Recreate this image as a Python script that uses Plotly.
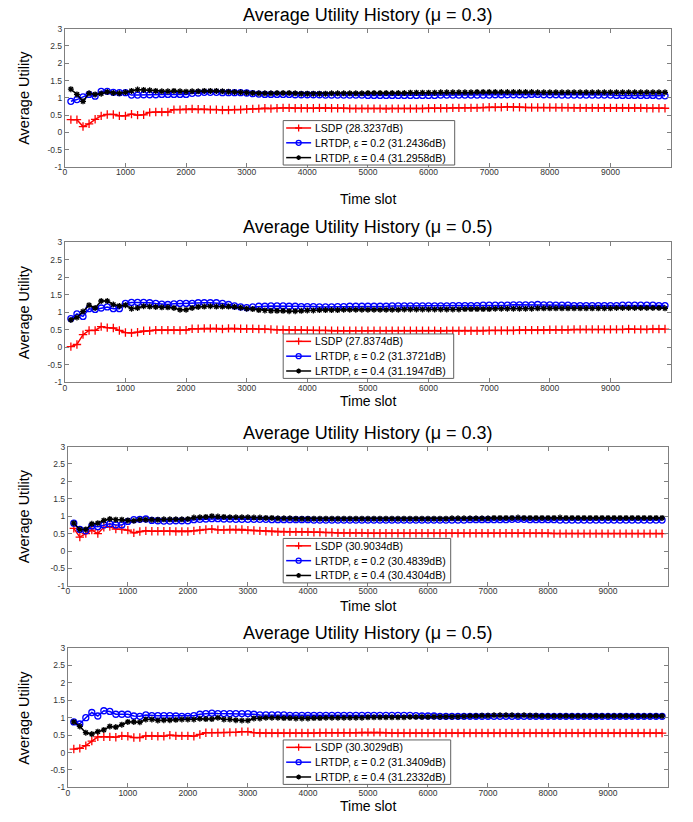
import plotly.graph_objects as go

W, H = 693, 822
slots = list(range(100, 10000, 100))

x_ticks = [0, 1000, 2000, 3000, 4000, 5000, 6000, 7000, 8000, 9000]
y_ticks = [-1, -0.5, 0, 0.5, 1, 1.5, 2, 2.5, 3]
y_tick_text = ["-1", "-0.5", "0", "0.5", "1", "1.5", "2", "2.5", "3"]

titles = ["Average Utility History (μ = 0.3)", "Average Utility History (μ = 0.5)",
          "Average Utility History (μ = 0.3)", "Average Utility History (μ = 0.5)"]

names1 = ["LSDP (28.3237dB)", "LRTDP, ε = 0.2 (31.2436dB)", "LRTDP, ε = 0.4 (31.2958dB)"]
names2 = ["LSDP (27.8374dB)", "LRTDP, ε = 0.2 (31.3721dB)", "LRTDP, ε = 0.4 (31.1947dB)"]
names3 = ["LSDP (30.9034dB)", "LRTDP, ε = 0.2 (30.4839dB)", "LRTDP, ε = 0.4 (30.4304dB)"]
names4 = ["LSDP (30.3029dB)", "LRTDP, ε = 0.2 (31.3409dB)", "LRTDP, ε = 0.4 (31.2332dB)"]

p1_lsdp = [0.37,0.37,0.17,0.25,0.38,0.48,0.52,0.52,0.48,0.48,
0.53,0.50,0.51,0.58,0.59,0.59,0.59,0.66,0.66,0.67,
0.68,0.67,0.67,0.66,0.66,0.65,0.65,0.66,0.66,0.67,
0.68,0.69,0.70,0.69,0.70,0.71,0.71,0.70,0.70,0.70,
0.70,0.71,0.71,0.70,0.70,0.70,0.69,0.69,0.69,0.69,
0.69,0.69,0.68,0.69,0.69,0.69,0.69,0.69,0.69,0.70,
0.70,0.70,0.70,0.71,0.71,0.71,0.71,0.71,0.72,0.73,
0.73,0.73,0.74,0.73,0.73,0.72,0.72,0.72,0.72,0.72,
0.72,0.72,0.72,0.71,0.71,0.71,0.71,0.71,0.71,0.71,
0.71,0.71,0.71,0.71,0.71,0.70,0.70,0.70,0.70]
p1_e02 = [0.90,0.95,1.03,1.10,1.05,1.19,1.19,1.16,1.15,1.15,
1.08,1.08,1.09,1.09,1.09,1.10,1.10,1.10,1.10,1.10,
1.13,1.14,1.16,1.16,1.16,1.15,1.15,1.15,1.15,1.14,
1.12,1.11,1.10,1.10,1.10,1.10,1.10,1.09,1.09,1.09,
1.09,1.09,1.08,1.08,1.08,1.08,1.08,1.08,1.08,1.07,
1.07,1.07,1.07,1.07,1.07,1.07,1.07,1.07,1.07,1.07,
1.07,1.08,1.08,1.08,1.08,1.08,1.08,1.08,1.08,1.08,
1.09,1.09,1.09,1.09,1.09,1.09,1.10,1.10,1.09,1.09,
1.09,1.08,1.08,1.08,1.08,1.08,1.08,1.08,1.08,1.08,
1.07,1.07,1.07,1.07,1.07,1.07,1.07,1.06,1.06]
p1_e04 = [1.25,1.10,0.90,1.13,1.10,1.12,1.17,1.14,1.13,1.16,
1.20,1.24,1.23,1.22,1.20,1.19,1.19,1.20,1.19,1.18,
1.19,1.19,1.20,1.20,1.20,1.19,1.18,1.17,1.16,1.15,
1.14,1.13,1.13,1.13,1.14,1.14,1.14,1.13,1.12,1.12,
1.12,1.12,1.12,1.13,1.13,1.13,1.13,1.13,1.13,1.14,
1.14,1.14,1.14,1.14,1.14,1.14,1.15,1.15,1.15,1.15,
1.15,1.16,1.16,1.16,1.16,1.16,1.16,1.17,1.17,1.17,
1.17,1.17,1.17,1.17,1.17,1.17,1.17,1.16,1.16,1.16,
1.16,1.16,1.16,1.16,1.16,1.16,1.16,1.16,1.16,1.16,
1.16,1.16,1.16,1.16,1.16,1.16,1.16,1.16,1.16]

p2_lsdp = [0.02,0.08,0.36,0.48,0.48,0.59,0.56,0.55,0.48,0.42,
0.41,0.43,0.47,0.47,0.49,0.49,0.49,0.49,0.48,0.49,
0.53,0.53,0.54,0.54,0.54,0.52,0.54,0.54,0.53,0.53,
0.53,0.52,0.52,0.51,0.50,0.50,0.49,0.49,0.49,0.48,
0.48,0.48,0.48,0.47,0.47,0.47,0.47,0.47,0.47,0.47,
0.47,0.47,0.47,0.47,0.47,0.47,0.47,0.47,0.47,0.47,
0.47,0.46,0.47,0.47,0.47,0.47,0.47,0.47,0.47,0.48,
0.48,0.48,0.48,0.48,0.49,0.49,0.49,0.49,0.49,0.50,
0.50,0.50,0.50,0.51,0.51,0.51,0.51,0.51,0.51,0.51,
0.51,0.51,0.52,0.51,0.51,0.51,0.52,0.52,0.52]
p2_e02 = [0.82,0.95,0.88,1.10,1.08,1.12,1.15,1.10,1.10,1.25,
1.28,1.28,1.28,1.27,1.25,1.23,1.22,1.24,1.25,1.25,
1.25,1.27,1.27,1.27,1.27,1.25,1.22,1.18,1.15,1.13,
1.15,1.17,1.17,1.18,1.18,1.18,1.17,1.17,1.16,1.16,
1.16,1.15,1.15,1.15,1.16,1.16,1.17,1.17,1.17,1.17,
1.17,1.17,1.17,1.18,1.18,1.18,1.18,1.18,1.18,1.18,
1.18,1.18,1.18,1.19,1.19,1.19,1.19,1.19,1.20,1.20,
1.20,1.20,1.20,1.21,1.21,1.21,1.21,1.22,1.21,1.21,
1.20,1.20,1.20,1.19,1.19,1.19,1.19,1.19,1.19,1.19,
1.19,1.20,1.20,1.20,1.20,1.20,1.20,1.19,1.19]
p2_e04 = [0.78,0.85,1.02,1.20,1.12,1.32,1.32,1.22,1.18,1.20,
1.10,1.12,1.17,1.16,1.15,1.14,1.14,1.12,1.07,1.07,
1.12,1.15,1.16,1.17,1.16,1.16,1.16,1.15,1.13,1.10,
1.09,1.06,1.05,1.04,1.04,1.04,1.03,1.03,1.04,1.05,
1.05,1.06,1.06,1.06,1.06,1.07,1.07,1.07,1.07,1.07,
1.07,1.07,1.07,1.07,1.07,1.08,1.08,1.08,1.08,1.08,
1.08,1.08,1.08,1.08,1.08,1.09,1.09,1.09,1.09,1.09,
1.10,1.10,1.10,1.10,1.10,1.10,1.10,1.11,1.11,1.11,
1.11,1.11,1.11,1.11,1.11,1.11,1.11,1.11,1.11,1.11,
1.12,1.12,1.12,1.12,1.12,1.12,1.12,1.12,1.11]

p3_lsdp = [0.65,0.40,0.50,0.60,0.50,0.68,0.70,0.63,0.62,0.60,
0.52,0.56,0.58,0.57,0.57,0.57,0.57,0.56,0.56,0.56,
0.58,0.60,0.62,0.63,0.61,0.61,0.62,0.62,0.62,0.60,
0.59,0.58,0.57,0.56,0.55,0.55,0.55,0.55,0.55,0.55,
0.54,0.54,0.53,0.53,0.52,0.52,0.52,0.52,0.52,0.51,
0.51,0.51,0.51,0.51,0.51,0.51,0.51,0.51,0.51,0.51,
0.51,0.51,0.51,0.51,0.51,0.51,0.51,0.51,0.51,0.51,
0.51,0.51,0.51,0.51,0.51,0.51,0.51,0.51,0.51,0.51,
0.50,0.50,0.50,0.50,0.50,0.50,0.50,0.50,0.50,0.50,
0.50,0.50,0.50,0.50,0.50,0.50,0.50,0.50,0.50]
p3_e02 = [0.80,0.62,0.58,0.72,0.70,0.75,0.78,0.75,0.75,0.85,
0.90,0.91,0.92,0.88,0.87,0.86,0.86,0.87,0.87,0.87,
0.90,0.91,0.92,0.93,0.93,0.92,0.92,0.91,0.91,0.91,
0.91,0.91,0.91,0.90,0.90,0.90,0.90,0.90,0.90,0.90,
0.89,0.89,0.89,0.89,0.89,0.89,0.89,0.89,0.89,0.89,
0.89,0.89,0.89,0.89,0.89,0.89,0.89,0.89,0.89,0.89,
0.89,0.89,0.89,0.89,0.89,0.89,0.90,0.90,0.90,0.90,
0.90,0.90,0.90,0.91,0.91,0.91,0.90,0.90,0.90,0.90,
0.90,0.89,0.89,0.89,0.89,0.89,0.89,0.89,0.89,0.89,
0.89,0.89,0.89,0.89,0.89,0.89,0.89,0.89,0.89]
p3_e04 = [0.80,0.62,0.62,0.78,0.80,0.88,0.92,0.90,0.90,0.88,
0.87,0.90,0.90,0.90,0.90,0.91,0.91,0.91,0.91,0.92,
0.96,0.97,0.98,1.00,0.99,0.98,0.97,0.97,0.97,0.97,
0.96,0.96,0.95,0.95,0.94,0.94,0.94,0.93,0.93,0.93,
0.93,0.93,0.93,0.93,0.93,0.93,0.93,0.93,0.93,0.93,
0.93,0.93,0.93,0.93,0.93,0.93,0.93,0.93,0.93,0.93,
0.93,0.93,0.93,0.94,0.94,0.94,0.94,0.94,0.94,0.94,
0.95,0.95,0.95,0.95,0.96,0.95,0.95,0.95,0.95,0.95,
0.95,0.96,0.95,0.95,0.95,0.95,0.95,0.95,0.95,0.95,
0.95,0.95,0.95,0.95,0.95,0.95,0.95,0.95,0.95]

p4_lsdp = [0.10,0.12,0.20,0.33,0.45,0.45,0.45,0.44,0.48,0.47,
0.43,0.43,0.48,0.48,0.47,0.47,0.50,0.48,0.48,0.48,
0.47,0.52,0.57,0.57,0.57,0.57,0.58,0.58,0.60,0.60,
0.57,0.56,0.56,0.56,0.56,0.56,0.56,0.56,0.56,0.56,
0.56,0.57,0.57,0.57,0.57,0.57,0.57,0.57,0.58,0.58,
0.58,0.58,0.57,0.56,0.56,0.56,0.56,0.56,0.56,0.56,
0.56,0.56,0.56,0.56,0.56,0.56,0.56,0.56,0.56,0.56,
0.56,0.56,0.56,0.56,0.56,0.56,0.56,0.56,0.56,0.56,
0.56,0.56,0.56,0.56,0.56,0.56,0.56,0.56,0.56,0.56,
0.56,0.56,0.56,0.56,0.56,0.56,0.56,0.56,0.56]
p4_e02 = [0.88,0.82,1.00,1.15,1.05,1.20,1.18,1.10,1.10,1.10,
1.05,1.04,1.08,1.06,1.06,1.06,1.06,1.05,1.04,1.04,
1.06,1.10,1.12,1.13,1.12,1.12,1.12,1.12,1.12,1.12,
1.10,1.08,1.08,1.08,1.08,1.08,1.07,1.07,1.07,1.07,
1.07,1.07,1.07,1.07,1.07,1.07,1.07,1.07,1.07,1.07,
1.07,1.07,1.07,1.07,1.07,1.07,1.07,1.06,1.05,1.05,
1.05,1.04,1.04,1.04,1.04,1.04,1.04,1.04,1.04,1.04,
1.04,1.04,1.04,1.04,1.04,1.04,1.04,1.04,1.04,1.04,
1.04,1.04,1.04,1.04,1.04,1.04,1.04,1.04,1.04,1.04,
1.04,1.04,1.04,1.04,1.04,1.04,1.04,1.04,1.04]
p4_e04 = [0.88,0.75,0.57,0.53,0.60,0.65,0.75,0.73,0.80,0.88,
0.88,0.87,0.95,0.95,0.92,0.93,0.93,0.94,0.95,0.95,
0.95,0.97,0.96,0.96,1.00,0.95,0.95,0.93,0.92,0.92,
0.98,0.98,1.00,1.00,1.00,0.99,0.99,0.98,0.98,0.98,
0.99,0.99,1.00,1.00,1.00,1.00,1.00,1.00,1.00,1.01,
1.01,1.01,1.01,1.01,1.01,1.01,1.02,1.02,1.02,1.02,
1.03,1.03,1.03,1.03,1.03,1.04,1.05,1.05,1.06,1.06,
1.07,1.07,1.07,1.07,1.06,1.07,1.06,1.06,1.05,1.05,
1.05,1.05,1.05,1.05,1.05,1.05,1.05,1.05,1.05,1.05,
1.05,1.05,1.05,1.05,1.05,1.05,1.05,1.05,1.05]

panels = [
    (names1, [p1_lsdp, p1_e02, p1_e04]),
    (names2, [p2_lsdp, p2_e02, p2_e04]),
    (names3, [p3_lsdp, p3_e02, p3_e04]),
    (names4, [p4_lsdp, p4_e02, p4_e04]),
]

# pixel layout of each panel: (left, right, top, bottom)
boxes = [(63, 671, 24, 164), (63, 671, 240, 382), (66, 668, 447, 588), (66, 668, 651, 792)]
title_y = [10, 225, 433, 636]
xlabel_y = [196, 401, 608, 811]
# legend boxes: (left, top, right, bottom)
legend_boxes = [(282, 117, 454, 162), (282, 333, 453, 378), (282, 540, 450, 585), (282, 744, 450, 789)]

styles = [
    dict(color="#ff0000", symbol="cross-thin-open", size=6),
    dict(color="#0000ff", symbol="circle-open", size=6),
    dict(color="#000000", symbol="asterisk-open", size=5),
]

def fx(p):
    return p / W

def fy(p):
    return 1 - p / H

FONT = "Liberation Sans, Arial, sans-serif"
fig = go.Figure()
layout = dict(width=W, height=H, margin=dict(l=0, r=0, t=0, b=0),
              paper_bgcolor="white", plot_bgcolor="rgba(0,0,0,0)", showlegend=False,
              font=dict(family=FONT, color="#000000"), annotations=[], shapes=[])

for i, (names, series) in enumerate(panels):
    k = "" if i == 0 else str(i + 1)
    for j, (nm, ys) in enumerate(zip(names, series)):
        st = styles[j]
        fig.add_trace(go.Scatter(
            x=slots, y=ys, name=nm, mode="lines+markers",
            xaxis="x" + k, yaxis="y" + k, showlegend=False,
            line=dict(color=st["color"], width=1.5),
            marker=dict(symbol=st["symbol"], size=st["size"], color=st["color"],
                        line=dict(color=st["color"], width=1.3)),
        ))
    l, r, t, b = boxes[i]
    axis_common = dict(showline=True, linecolor="#7f7f7f", linewidth=1, mirror="ticks",
                       ticks="inside", ticklen=4, tickcolor="#7f7f7f", showgrid=False,
                       zeroline=False, tickfont=dict(size=8.5, color="#333333", family=FONT))
    layout["xaxis" + k] = dict(domain=[fx(l), fx(r)], anchor="y" + k, range=[0, 10000],
                               tickvals=x_ticks, ticktext=[str(v) for v in x_ticks],
                               ticklabelstandoff=-3, **axis_common)
    layout["yaxis" + k] = dict(domain=[fy(b), fy(t)], anchor="x" + k, range=[-1, 3],
                               tickvals=y_ticks, ticktext=y_tick_text, **axis_common)
    cx = (l + r) / 2
    layout["annotations"].append(dict(text=titles[i], x=fx(cx), y=fy(title_y[i]), xref="paper",
                                      yref="paper", showarrow=False, xanchor="center", yanchor="middle",
                                      font=dict(size=18, family=FONT)))
    layout["annotations"].append(dict(text="Time slot", x=fx(cx), y=fy(xlabel_y[i]), xref="paper",
                                      yref="paper", showarrow=False, xanchor="center", yanchor="middle",
                                      font=dict(size=14, family=FONT)))
    layout["annotations"].append(dict(text="Average Utility", x=fx(22), y=fy((t + b) / 2), xref="paper",
                                      yref="paper", showarrow=False, xanchor="center", yanchor="middle",
                                      textangle=-90, font=dict(size=14.5, family=FONT)))

# Custom legends drawn on an invisible pixel-space overlay axis
layout["xaxis5"] = dict(domain=[0, 1], range=[0, W], visible=False, anchor="y5", fixedrange=True)
layout["yaxis5"] = dict(domain=[0, 1], range=[H, 0], visible=False, anchor="x5", fixedrange=True)
leg_mx = {0: [], 1: [], 2: []}
leg_my = {0: [], 1: [], 2: []}
for i, (names, _) in enumerate(panels):
    lx0, ly0, lx1, ly1 = legend_boxes[i]
    layout["shapes"].append(dict(type="rect", xref="x5", yref="y5", x0=lx0, x1=lx1, y0=ly0, y1=ly1,
                                 line=dict(color="#606060", width=1), fillcolor="white", layer="below"))
    row_h = (ly1 - ly0) / 3
    for j, nm in enumerate(names):
        yc = ly0 + row_h * (j + 0.5)
        layout["shapes"].append(dict(type="line", xref="x5", yref="y5", x0=lx0 + 3, x1=lx0 + 28,
                                     y0=yc, y1=yc, line=dict(color=styles[j]["color"], width=1.5),
                                     layer="below"))
        leg_mx[j].append(lx0 + 15.5)
        leg_my[j].append(yc)
        layout["annotations"].append(dict(text=nm, x=lx0 + 30, y=yc, xref="x5", yref="y5",
                                          showarrow=False, xanchor="left", yanchor="middle",
                                          font=dict(size=10.5, family=FONT)))
for j in range(3):
    st = styles[j]
    fig.add_trace(go.Scatter(x=leg_mx[j], y=leg_my[j], mode="markers", xaxis="x5", yaxis="y5",
                             showlegend=False, hoverinfo="skip",
                             marker=dict(symbol=st["symbol"], size=st["size"] - 1, color=st["color"],
                                         line=dict(color=st["color"], width=1.3))))

fig.update_layout(**layout)
fig.write_html("out.html", config={"displayModeBar": False},
               post_script="document.body.style.margin='0';")
